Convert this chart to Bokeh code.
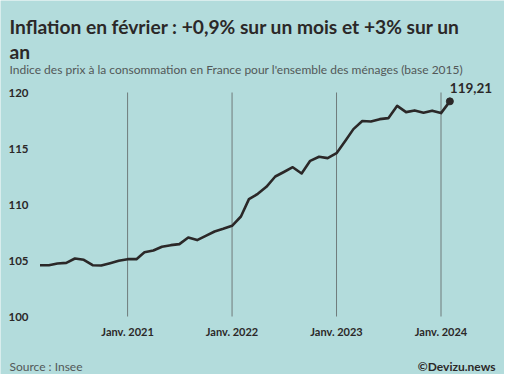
import pandas as pd
from bokeh.plotting import figure
from bokeh.models import Label, FixedTicker, ColumnDataSource, DatetimeAxis, LinearAxis
from bokeh.embed import file_html
from bokeh.resources import INLINE

# ---- data ----
months = pd.date_range("2020-03-01", "2024-02-01", freq="MS")
cpi = [104.58, 104.58, 104.73, 104.79, 105.18, 105.06, 104.58, 104.55, 104.76, 104.97,
       105.12, 105.12, 105.74, 105.89, 106.23, 106.37, 106.46, 107.05, 106.82, 107.20,
       107.59, 107.83, 108.10, 108.93, 110.48, 110.95, 111.58, 112.50, 112.90, 113.33,
       112.77, 113.90, 114.26, 114.14, 114.58, 115.69, 116.73, 117.45, 117.41, 117.62,
       117.71, 118.81, 118.25, 118.40, 118.20, 118.38, 118.16, 119.21]
tick_dates = pd.to_datetime(["2021-01-01", "2022-01-01", "2023-01-01", "2024-01-01"])
tick_labels = ["Janv. 2021", "Janv. 2022", "Janv. 2023", "Janv. 2024"]
y_ticks = [100, 105, 110, 115, 120]

title_line1 = "Inflation en février : +0,9% sur un mois et +3% sur un"
title_line2 = "an"
subtitle = "Indice des prix à la consommation en France pour l'ensemble des ménages (base 2015)"
source_txt = "Source : Insee"
credit_txt = "©Devizu.news"

BG = "#b3dcdc"
DARK = "#2b2828"
GREY = "#525858"
FONT = "Lato"

W, H = 504, 374
# layout: plot area spans the whole canvas; pixel geometry of the chart zone
PX_PER_DAY = 401.0 / 1401.0
X0_PX, Y120_PX, Y100_PX = 39.5, 92.0, 316.0
ref_date = pd.Timestamp("2020-03-01")
x_start = ref_date - pd.Timedelta(days=X0_PX / PX_PER_DAY)
x_end = x_start + pd.Timedelta(days=W / PX_PER_DAY)
ppu = (Y100_PX - Y120_PX) / (y_ticks[-1] - y_ticks[0])
y_top = y_ticks[-1] + Y120_PX / ppu
y_bot = y_ticks[0] - (H - Y100_PX) / ppu

p = figure(width=W, height=H, x_axis_type="datetime",
           x_range=(x_start, x_end), y_range=(y_bot, y_top),
           x_axis_location=None, y_axis_location=None,
           output_backend="svg", toolbar_location=None,
           min_border=0,
           background_fill_color=BG, border_fill_color=BG, outline_line_color=None)
p.grid.visible = False

# vertical gridlines at tick dates, spanning the value axis
p.segment(x0=list(tick_dates), x1=list(tick_dates),
          y0=[y_ticks[0]] * len(tick_dates), y1=[y_ticks[-1]] * len(tick_dates),
          line_color="#6f7b7b", line_width=1)

src = ColumnDataSource(dict(date=months, cpi=cpi))
p.line("date", "cpi", source=src, line_width=2.6, color=DARK, line_join="round")
p.scatter(x=[months[-1]], y=[cpi[-1]], size=7, color=DARK)

p.add_layout(Label(x=months[-1], y=cpi[-1], x_offset=0, y_offset=8,
                   text=f"{cpi[-1]:.2f}".replace(".", ","),
                   text_font=FONT, text_font_style="bold", text_font_size="13.5px",
                   text_color=DARK, text_baseline="bottom", text_align="left"))

tick_ms = [int(t.value // 10**6) for t in tick_dates]
xaxis = DatetimeAxis(ticker=FixedTicker(ticks=tick_ms), fixed_location=y_ticks[0],
                     major_label_overrides={t: l for t, l in zip(tick_ms, tick_labels)})
yaxis_loc = (x_start + pd.Timedelta(days=36 / PX_PER_DAY)).value // 10**6
yaxis = LinearAxis(ticker=FixedTicker(ticks=y_ticks), fixed_location=yaxis_loc)
for ax in (xaxis, yaxis):
    ax.axis_line_color = None
    ax.major_tick_line_color = None
    ax.minor_tick_line_color = None
    ax.major_tick_out = 0
    ax.major_tick_in = 0
    ax.minor_tick_out = 0
    ax.major_label_text_font = FONT
    ax.major_label_text_font_style = "bold"
    ax.major_label_text_color = DARK
    ax.major_label_standoff = 8
xaxis.major_label_text_font_size = "11px"
yaxis.major_label_text_font_size = "11.5px"
p.add_layout(xaxis, "below")
p.add_layout(yaxis, "left")

def lab(x, y, text, size, bold=False, color=DARK, align="left"):
    p.add_layout(Label(x=x, y=y, x_units="screen", y_units="screen", text=text,
                       text_font=FONT, text_font_size=size,
                       text_font_style="bold" if bold else "normal",
                       text_color=color, text_align=align, text_baseline="alphabetic"))

lab(9, H - 26.3, title_line1, "19.2px", bold=True)
lab(9, H - 51.3, title_line2, "19.2px", bold=True)
lab(9, H - 68.7, subtitle, "12px", color=GREY)
lab(9, 8, source_txt, "12px", color=GREY)
lab(495, 8, credit_txt, "12px", bold=True, align="right")

open("out.html", "w").write(file_html(p, INLINE))
